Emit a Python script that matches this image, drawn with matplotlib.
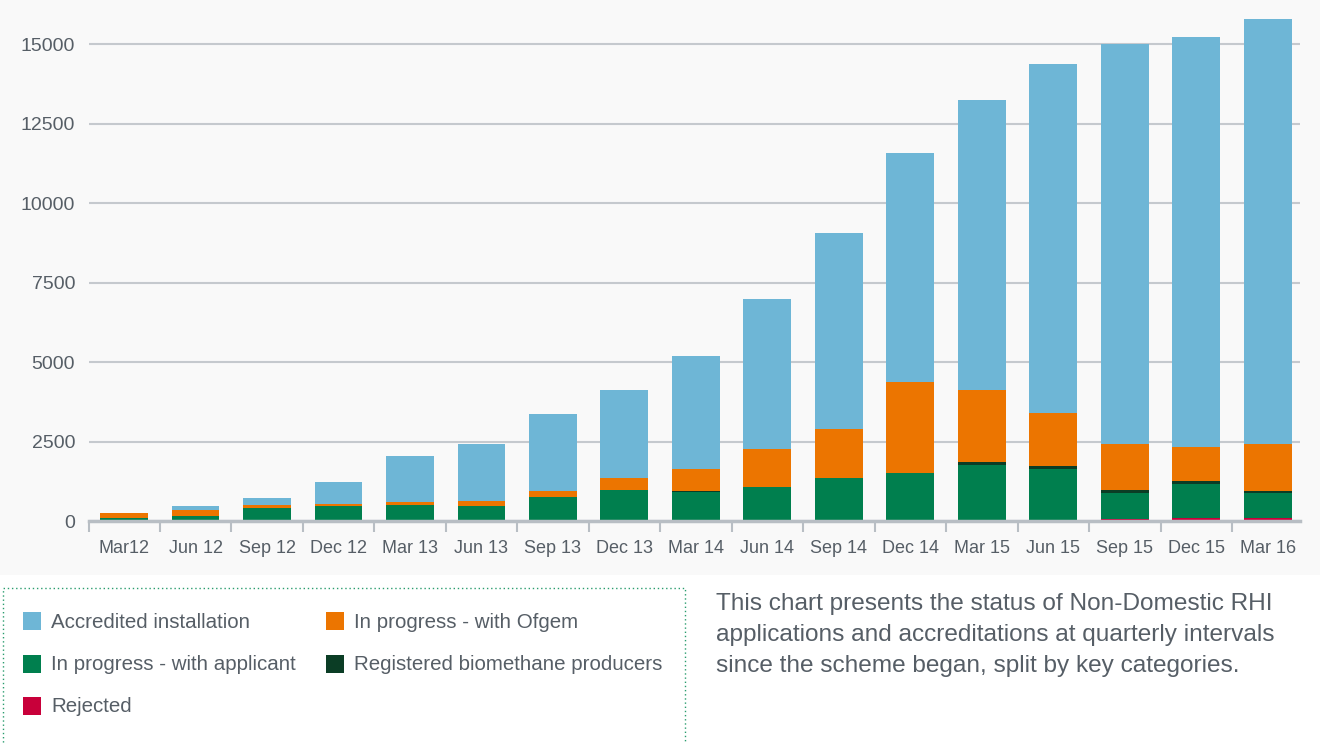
import numpy as np
import matplotlib
matplotlib.use("Agg")
import matplotlib.pyplot as plt
from matplotlib.patches import Rectangle

plt.rcParams['font.family'] = ['Liberation Sans', 'DejaVu Sans']

quarters = ["Mar12", "Jun 12", "Sep 12", "Dec 12", "Mar 13", "Jun 13", "Sep 13", "Dec 13",
            "Mar 14", "Jun 14", "Sep 14", "Dec 14", "Mar 15", "Jun 15", "Sep 15", "Dec 15", "Mar 16"]

rejected = [0, 0, 0, 0, 0, 0, 0, 0, 0, 0, 0, 0, 0, 0, 50, 105, 105]
with_applicant = [100, 160, 410, 470, 500, 470, 755, 975, 920, 1070, 1360, 1510, 1760, 1645, 840, 1060, 765]
biomethane = [0, 0, 0, 0, 0, 0, 0, 0, 10, 0, 0, 0, 95, 85, 85, 95, 85]
with_ofgem = [150, 185, 95, 65, 100, 160, 190, 390, 715, 1195, 1530, 2860, 2265, 1665, 1455, 1070, 1480]
accredited = [0, 125, 225, 700, 1450, 1800, 2430, 2770, 3560, 4720, 6180, 7200, 9120, 10980, 12570, 12890, 13355]

yticks = [0, 2500, 5000, 7500, 10000, 12500, 15000]

txt = "#565e66"
series = [
    ("Rejected", rejected, "#c8003a"),
    ("In progress - with applicant", with_applicant, "#007f4e"),
    ("Registered biomethane producers", biomethane, "#0b3d25"),
    ("In progress - with Ofgem", with_ofgem, "#ec7500"),
    ("Accredited installation", accredited, "#6eb6d6"),
]

W, H = 1320, 744
fig = plt.figure(figsize=(13.2, 7.44), dpi=100, facecolor="white")
fig.patches.append(Rectangle((0, (H - 575) / H), 1, 575 / H, transform=fig.transFigure,
                             facecolor="#f9f9f9", edgecolor="none", zorder=-10))

ax = fig.add_axes([89 / W, (H - 521) / H, (1300 - 89) / W, (521 - 5) / H])
ax.set_facecolor("none")

x = np.arange(len(quarters))
bottom = np.zeros(len(quarters))
for name, vals, col in series:
    vals = np.array(vals, dtype=float)
    ax.bar(x, vals, width=0.67, bottom=bottom, color=col, label=name, zorder=3)
    bottom += vals

ax.set_xlim(-0.49, 16.45)
ax.set_ylim(0, 16230)
ax.set_yticks(yticks)
ax.set_yticklabels([str(v) for v in yticks])
ax.grid(axis="y", color="#c5c9ce", linewidth=1.5, zorder=0)
ax.tick_params(axis="y", length=0, pad=10, labelsize=14, labelcolor=txt)

ax.set_xticks(x)
ax.set_xticklabels(quarters)
ax.set_xticks(list(x[:-1] + 0.5) + [-0.49], minor=True)
ax.tick_params(axis="x", which="major", length=0, pad=14, labelsize=13, labelcolor=txt)
ax.tick_params(axis="x", which="minor", length=8, width=1.5, color="#b8bec4", direction="out")

for s in ["top", "right", "left"]:
    ax.spines[s].set_visible(False)
ax.spines["bottom"].set_color("#b8bec4")
ax.spines["bottom"].set_linewidth(2.5)
ax.spines["bottom"].set_zorder(4)

# legend box (dotted, runs off the bottom)
fig.patches.append(Rectangle((3 / W, -0.05), (685 - 3) / W, (H - 588) / H + 0.05,
                             transform=fig.transFigure, facecolor="none",
                             edgecolor="#2a9d6e", linewidth=1.0, linestyle=(0, (1, 2))))

legend_pos = {
    "Accredited installation": (23, 621),
    "In progress - with Ofgem": (326, 621),
    "In progress - with applicant": (23, 664),
    "Registered biomethane producers": (326, 664),
    "Rejected": (23, 706),
}
for name, vals, col in series:
    lx, ly = legend_pos[name]
    fig.patches.append(Rectangle((lx / W, (H - ly - 9) / H), 18 / W, 18 / H,
                                 transform=fig.transFigure, facecolor=col, edgecolor="none"))
    fig.text((lx + 28) / W, (H - ly - 1) / H, name, fontsize=14.8, color=txt, va="center", ha="left")

desc = ["This chart presents the status of Non-Domestic RHI",
        "applications and accreditations at quarterly intervals",
        "since the scheme began, split by key categories."]
for i, line in enumerate(desc):
    fig.text(716 / W, (H - 604 - 31 * i) / H, line, fontsize=17.6, color=txt, va="center", ha="left")

fig.savefig("out.png", dpi=100, facecolor="white")
